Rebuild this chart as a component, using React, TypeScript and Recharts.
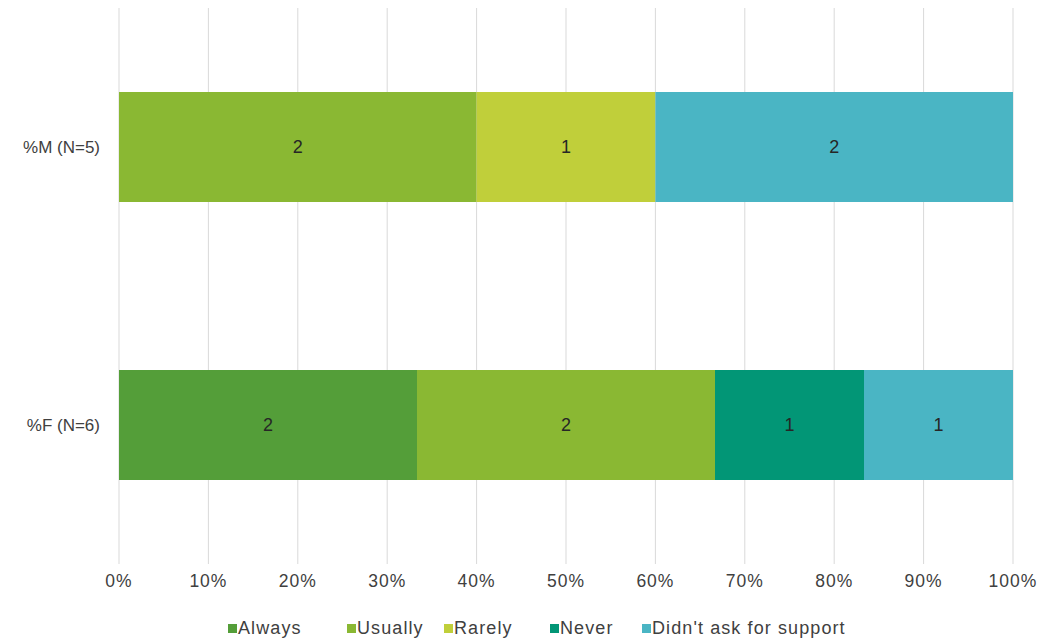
import React from 'react';
import { BarChart, Bar, XAxis, YAxis, CartesianGrid, Legend, LabelList } from 'recharts';

const categories = ['%M (N=5)', '%F (N=6)'];
const always = [0, 2];
const usually = [2, 2];
const rarely = [1, 0];
const never = [0, 1];
const didntAsk = [2, 1];

const seriesNames = ['Always', 'Usually', 'Rarely', 'Never', "Didn't ask for support"];
const seriesColors = ['#549E39', '#8AB833', '#C0CF3A', '#029676', '#4AB5C4'];
const seriesValues = [always, usually, rarely, never, didntAsk];

const xTicks = [0, 0.1, 0.2, 0.3, 0.4, 0.5, 0.6, 0.7, 0.8, 0.9, 1];

// legend item left edges, px
const legendLefts = [228, 347, 444, 550, 642];

const chartData = categories.map((cat, i) => {
  const row: Record<string, string | number> = { category: cat };
  seriesNames.forEach((name, s) => {
    row[name] = seriesValues[s][i];
  });
  return row;
});

const FONT = '"Liberation Sans", Arial, sans-serif';

const LegendContent = () => (
  <div
    style={{
      position: 'relative',
      height: 30,
      width: 1040,
      fontFamily: FONT,
      fontSize: 18,
      letterSpacing: 1.1,
      color: '#404040',
    }}
  >
    {seriesNames.map((name, i) => (
      <div
        key={name}
        style={{ position: 'absolute', left: legendLefts[i], top: 7, display: 'flex', alignItems: 'center', whiteSpace: 'nowrap' }}
      >
        <span style={{ width: 9, height: 9, background: seriesColors[i], marginRight: 1, display: 'inline-block' }} />
        <span>{name}</span>
      </div>
    ))}
  </div>
);

const App: React.FC = () => {
  return (
    <div style={{ position: 'absolute', top: 0, left: 0, width: 1040, height: 641, background: '#fff' }}>
      <BarChart
        width={1040}
        height={641}
        data={chartData}
        layout="vertical"
        stackOffset="expand"
        margin={{ top: 8, right: 27, left: 0, bottom: 7 }}
      >
        <CartesianGrid horizontal={false} stroke="#D9D9D9" />
        <XAxis
          type="number"
          domain={[0, 1]}
          ticks={xTicks}
          tickFormatter={(v: number) => `${Math.round(v * 100)}%`}
          axisLine={false}
          tickLine={false}
          tickSize={0}
          tickMargin={11}
          height={40}
          tick={{ fontSize: 17.5, fill: '#404040', fontFamily: FONT, letterSpacing: 1 }}
        />
        <YAxis
          type="category"
          dataKey="category"
          width={119}
          axisLine={false}
          tickLine={false}
          tickSize={0}
          tickMargin={19}
          tick={{ fontSize: 17, fill: '#404040', fontFamily: FONT }}
        />
        <Legend
          verticalAlign="bottom"
          content={<LegendContent />}
          wrapperStyle={{ left: 0, bottom: 0, width: 1040, height: 30 }}
        />
        {seriesNames.map((name, i) => (
          <Bar key={name} dataKey={name} stackId="a" fill={seriesColors[i]} barSize={110} isAnimationActive={false}>
            <LabelList
              dataKey={name}
              position="center"
              formatter={(v: number) => (v ? v : '')}
              style={{ fontSize: 18, fill: '#262626', fontFamily: FONT }}
            />
          </Bar>
        ))}
      </BarChart>
    </div>
  );
};

export default App;
